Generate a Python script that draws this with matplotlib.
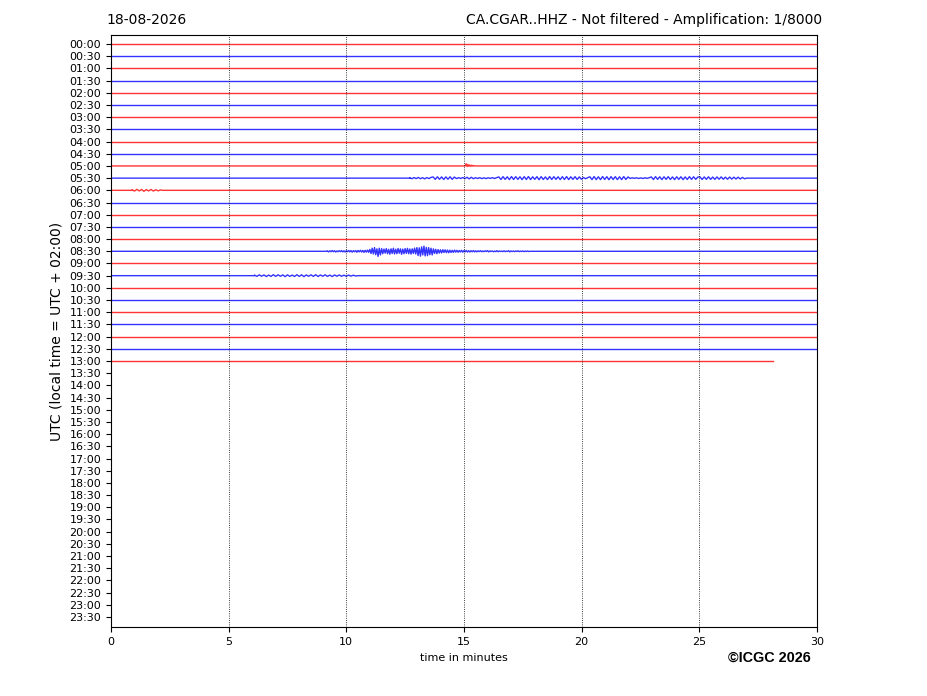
import matplotlib
matplotlib.use("Agg")
import matplotlib.pyplot as plt
import numpy as np

# row labels, 30 min per row
hours = ["%02d:%02d" % (h, m) for h in range(24) for m in (0, 30)]
n_rows_recorded = 27          # 00:00 .. 13:00
last_row_end = 28.13          # minutes into the 13:00 row when data stops

# events: row index -> (start minute, sample step in minutes, amplitudes in row units)
ev_0500 = [0, .18, -.05, .12, -.04, .08, -.03, .06, -.02, .04, 0]

ev_0530 = [.04, -.05, .05, -.04, .06, -.05, .04, -.06, .05, -.04, .06,
           .1, -.1, .11, -.09, .1, -.11, .1, -.09, .11, -.1, .09,
           -.04, .04, -.03, .05, -.04, .07, -.06, .07, -.05, .04, -.03, .04, -.04, .03, -.04, .03, -.02, .04, -.03, .04,
           .1, -.11, .12, -.1, .11, -.12, .13, -.11, .12, -.1, .11, -.12, .12, -.11, .13, -.12, .11, -.1, .12, -.13,
           .12, -.11, .1, -.12, .13, -.11, .12, -.1, .11, -.12, .12, -.11, .13, -.12, .11, -.1, .12, -.11, .1, -.09,
           .05, -.05, .04,
           .11, -.12, .13, -.12, .11, -.12, .13, -.11, .12, -.13, .12, -.11, .12, -.12, .11, -.12, .13, -.11, .1,
           -.03, .03, -.02, .03, -.03, .02, -.03, .03, -.02, .03,
           .1, -.11, .12, -.1, .11, -.12, .11, -.1, .12, -.11, .1, -.12, .11, -.1, .11, -.12, .1, -.11, .12, -.1, .11, -.1, .09,
           .1, -.11, .1, -.1, .11, -.1, .09, -.1, .1, -.09, .1, -.09, .08, -.09, .09, -.08, .08, -.07, .08, -.07, .06, -.05]

ev_0600 = [.05, -.06, .08, -.05, .07, -.08, .06, -.05, .07, -.06, .05, -.04, .03]

ev_0830 = [.03, -.05, .04, -.03, .06, -.04, .05, -.06, .03, -.04, .05, -.03, .06, -.05, .04, -.06, .05, -.04,
           .07, -.05, .06, -.07, .05, -.04, .06, -.08, .07, -.05, .08, -.06, .07, -.09, .08, -.07, .1, -.08,
           .15, -.18, .25, -.22, .3, -.28, .2, -.42, .25, -.3, .22, -.2,
           .18, -.15, .22, -.2, .16, -.24, .2, -.18, .25, -.22, .17, -.2, .23, -.16, .2, -.25, .18, -.2,
           .22, -.17, .24, -.2, .19, -.23, .2, -.18, .26, -.22,
           .3, -.35, .28, -.4, .36, -.3, .42, -.38, .32, -.36, .3, -.28, .25, -.3,
           .2, -.18, .16, -.2, .14, -.15, .12, -.14, .13, -.1, .12, -.11, .1, -.12, .09, -.1, .08, -.09, .1, -.07, .08,
           -.08, .07, -.06, .08, -.07, .06, -.05, .07, -.06, .05, -.06, .05, -.04, .06, -.05, .04, -.05, .04, -.03, .05, -.04,
           .03, -.03, .04, -.02, .06, -.05, .03, -.02, .03, -.04, .02, -.03, .05, -.04, .03, -.02, .02, -.03, .04, -.03,
           .02, -.02, .05, -.05, .03, -.02, .02, -.03, .03, -.02, .04, -.03, .02, -.02, .03, -.03, .02, -.02, .03, -.02]

ev_0930 = [.05, -.06, .07, -.05, .06, -.07, .05, -.06, .08, -.06, .07, -.05, .06, -.08, .07, -.06, .05, -.07,
           .08, -.06, .07, -.08, .06, -.05, .07, -.06, .08, -.07, .06, -.05, .07, -.06, .05, -.07, .06, -.05,
           .06, -.05, .04, -.05, .05, -.04, .04, -.03]

events = {
    10: (15.05, 0.04, ev_0500),
    11: (12.7, 0.09, ev_0530),
    12: (0.9, 0.1, ev_0600),
    17: (9.2, 0.05, ev_0830),
    19: (6.1, 0.1, ev_0930),
}

colors = ["#ff0000", "#0000ff"]

fig = plt.figure(figsize=(9.27, 6.96), dpi=100)
ax = fig.add_axes([0.1197, 0.0991, 0.7616, 0.8506])

for i in range(n_rows_recorded):
    end = last_row_end if i == n_rows_recorded - 1 else 30.0
    if i in events:
        start, step, vals = events[i]
        t = start + step * np.arange(len(vals))
        x = np.concatenate([[0.0], [start], t, [t[-1] + step], [end]])
        y = np.concatenate([[0.0], [0.0], np.array(vals), [0.0], [0.0]])
    else:
        x = np.array([0.0, end])
        y = np.array([0.0, 0.0])
    ax.plot(x, i - y, color=colors[i % 2], linewidth=1.0, alpha=0.8)

for v in (5, 10, 15, 20, 25):
    ax.axvline(v, color="black", linestyle=":", linewidth=0.6)

ax.set_xlim(0, 30)
ax.set_ylim(47.82, -0.74)
ax.set_xticks([0, 5, 10, 15, 20, 25, 30])
ax.set_yticks(range(48))
ax.set_yticklabels(hours)
ax.tick_params(axis="both", labelsize=8, length=3.5)
ax.set_xlabel("time in minutes", fontsize=8, labelpad=4.5)
ax.set_ylabel("UTC (local time = UTC + 02:00)", fontsize=10, labelpad=4)

fig.text(0.1144, 0.971, "18-08-2026", fontsize=10, ha="left", va="center")
fig.text(0.8867, 0.971, "CA.CGAR..HHZ - Not filtered - Amplification: 1/8000",
         fontsize=10, ha="right", va="center")
fig.text(0.875, 0.0546, "\u00a9ICGC 2026", fontsize=10.4, fontweight="bold",
         family="Liberation Sans", ha="right", va="center")

fig.savefig("out.png", dpi=100)
